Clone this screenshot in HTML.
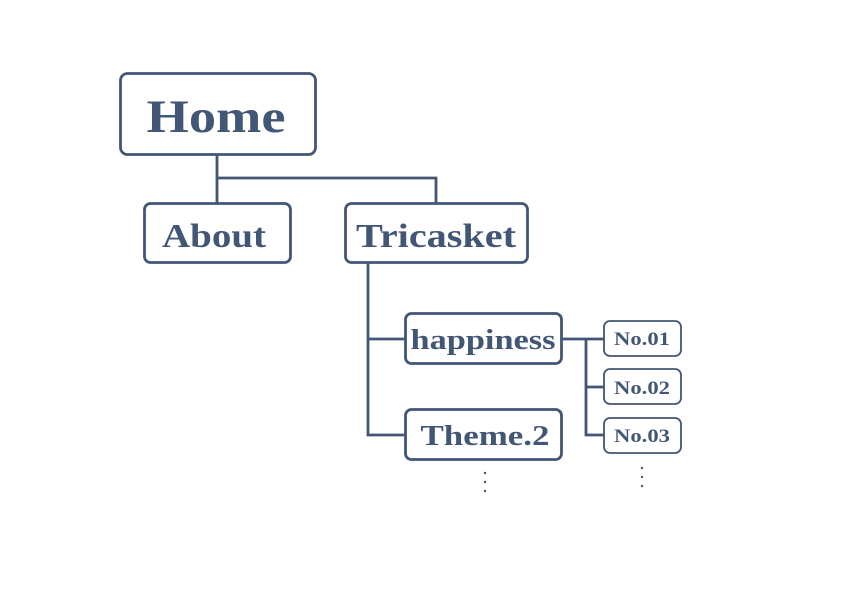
<!DOCTYPE html>
<html><head><style>
html,body{margin:0;padding:0;background:#fff;}
svg text{font-family:"Liberation Serif",serif;font-weight:bold;fill:#425675;text-anchor:middle;}
</style></head><body>
<svg width="842" height="595" viewBox="0 0 842 595" xmlns="http://www.w3.org/2000/svg">
<g fill="none" stroke="#425675" stroke-width="2.8">
<rect x="120.5" y="73.5" width="195" height="81" rx="7"/>
<rect x="144.5" y="203.5" width="146" height="59" rx="6"/>
<rect x="345.5" y="203.5" width="182" height="59" rx="6"/>
<rect x="405.5" y="313.5" width="156" height="50" rx="6"/>
<rect x="405.5" y="409.5" width="156" height="50" rx="6"/>
<path d="M217 155V203M217 178H436V203M368 263V435H405M368 339H405M561 339H604M586 339V435H604M586 387H604"/>
</g>
<g fill="none" stroke="#425675" stroke-width="1.8">
<rect x="604" y="321" width="77" height="35" rx="6"/>
<rect x="604" y="369" width="77" height="35" rx="6"/>
<rect x="604" y="418" width="77" height="35" rx="6"/>
</g>
<g fill="#425675">
<circle cx="485" cy="473" r="1.2"/><circle cx="485" cy="482" r="1.2"/><circle cx="485" cy="491" r="1.2"/>
<circle cx="642" cy="468" r="1.2"/><circle cx="642" cy="477" r="1.2"/><circle cx="642" cy="486" r="1.2"/>
</g>
<text x="216" y="132" font-size="47" textLength="139" lengthAdjust="spacingAndGlyphs">Home</text>
<text x="214" y="247" font-size="34" textLength="104" lengthAdjust="spacingAndGlyphs">About</text>
<text x="436" y="247" font-size="34" textLength="160" lengthAdjust="spacingAndGlyphs">Tricasket</text>
<text x="483" y="349" font-size="29" textLength="145" lengthAdjust="spacingAndGlyphs">happiness</text>
<text x="485" y="445" font-size="29" textLength="129" lengthAdjust="spacingAndGlyphs">Theme.2</text>
<text x="642" y="345" font-size="19" textLength="56" lengthAdjust="spacingAndGlyphs">No.01</text>
<text x="642" y="394" font-size="19" textLength="56" lengthAdjust="spacingAndGlyphs">No.02</text>
<text x="642" y="442" font-size="19" textLength="56" lengthAdjust="spacingAndGlyphs">No.03</text>
</svg>
</body></html>
